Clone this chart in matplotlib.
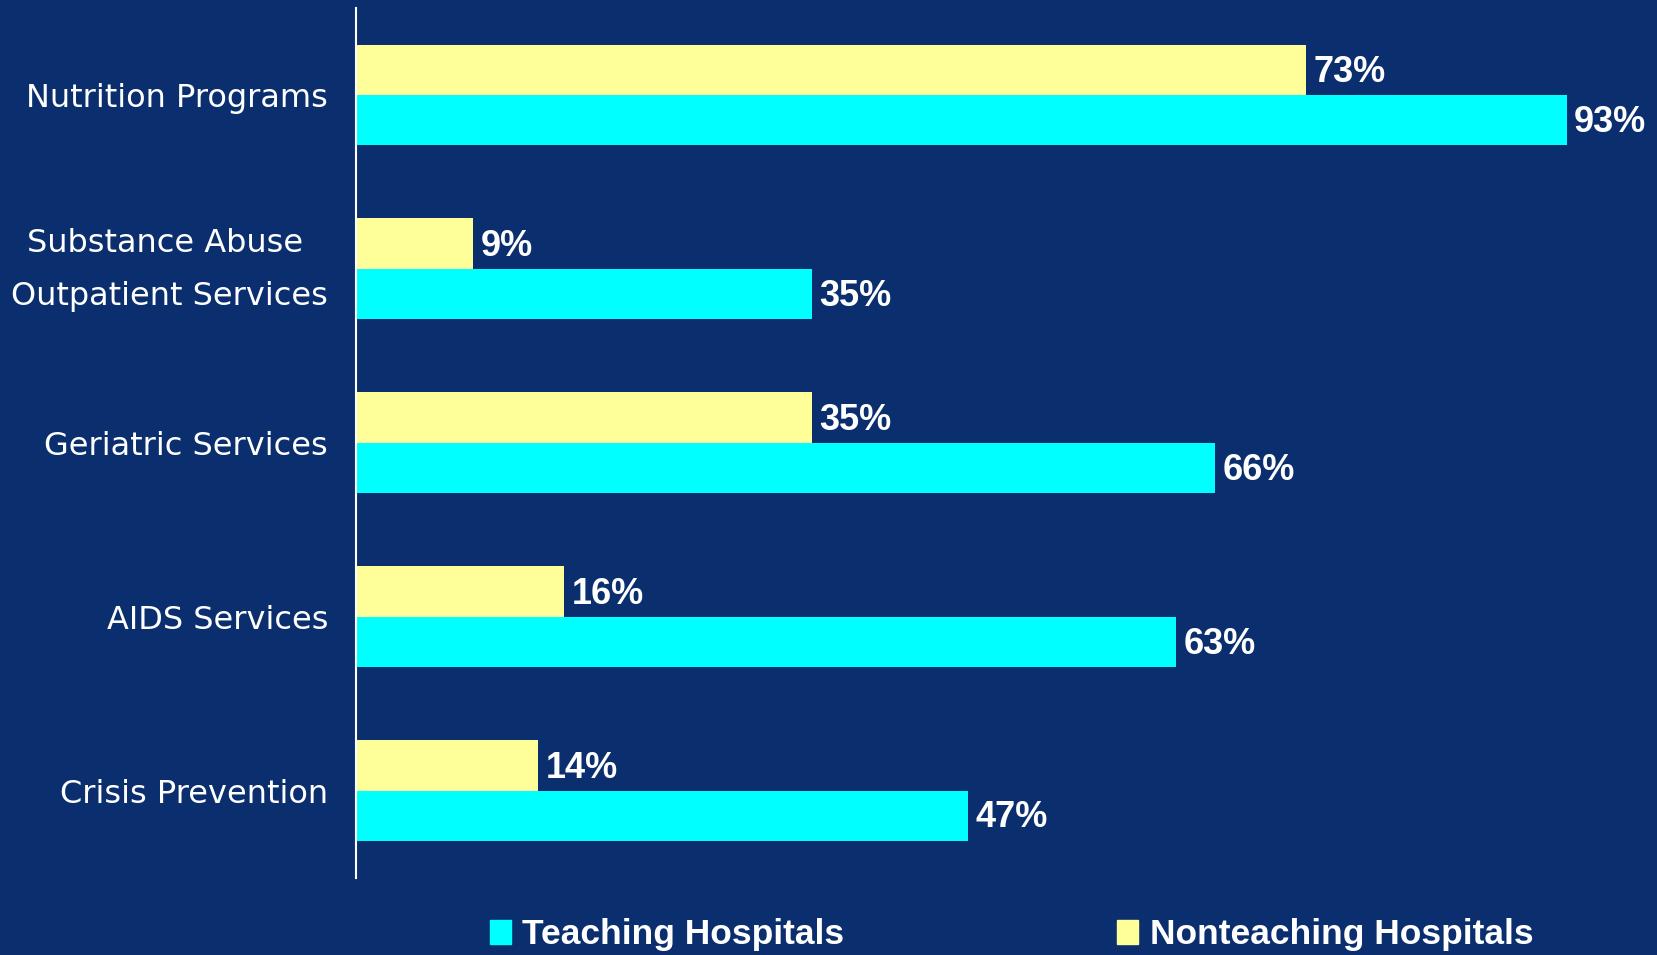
import matplotlib
matplotlib.use("Agg")
import matplotlib.pyplot as plt
import matplotlib.transforms as mtransforms
from matplotlib.patches import Patch
import numpy as np

categories = ["Nutrition Programs", "Substance Abuse \nOutpatient Services",
              "Geriatric Services", "AIDS Services", "Crisis Prevention"]
teaching = [93, 35, 66, 63, 47]
nonteaching = [73, 9, 35, 16, 14]

bg = "#0B2F6E"
cyan = "#00FFFF"
yellow = "#FFFF99"
bold_font = ["Liberation Sans", "DejaVu Sans"]

fig = plt.figure(figsize=(16.58, 9.55), dpi=100, facecolor=bg)
ax = fig.add_axes([0.2147, 0.081, 0.7853, 0.9106])
ax.set_facecolor(bg)

y = np.arange(len(categories))
h = 0.29
ax.barh(y - h / 2, nonteaching, height=h, color=yellow, label="Nonteaching Hospitals")
ax.barh(y + h / 2, teaching, height=h, color=cyan, label="Teaching Hospitals")

for i in range(len(categories)):
    ax.text(nonteaching[i] + 0.55, y[i] - h / 2 + 0.017, f"{nonteaching[i]}%", color="white",
            fontsize=26, fontweight="bold", family=bold_font, va="center", ha="left")
    ax.text(teaching[i] + 0.55, y[i] + h / 2 + 0.012, f"{teaching[i]}%", color="white",
            fontsize=26, fontweight="bold", family=bold_font, va="center", ha="left")

ax.set_xlim(0, 100)
ax.set_ylim(4.5, -0.5)
ax.set_yticks(y)
ax.set_yticklabels(categories, fontsize=23, color="white", linespacing=1.9,
                   multialignment="center")
ax.tick_params(axis="y", length=0, pad=20)
ax.set_xticks([])
for s in ["top", "right", "bottom"]:
    ax.spines[s].set_visible(False)
ax.spines["left"].set_color("white")
ax.spines["left"].set_linewidth(1.5)

# nudge the two-line label up a little
lbl = ax.get_yticklabels()[1]
lbl.set_transform(lbl.get_transform() +
                  mtransforms.ScaledTranslation(0, 0.13, fig.dpi_scale_trans))

handles = [Patch(color=cyan), Patch(color=yellow)]
fig.legend(handles, ["Teaching Hospitals", "Nonteaching Hospitals"], loc="center",
           bbox_to_anchor=(0.61, 0.021), ncol=2, frameon=False,
           handlelength=0.6, handleheight=0.65, handletextpad=0.32, columnspacing=7.7,
           prop={"family": bold_font, "weight": "bold", "size": 25.5}, labelcolor="white")

fig.savefig("out.png", dpi=100, facecolor=bg)
